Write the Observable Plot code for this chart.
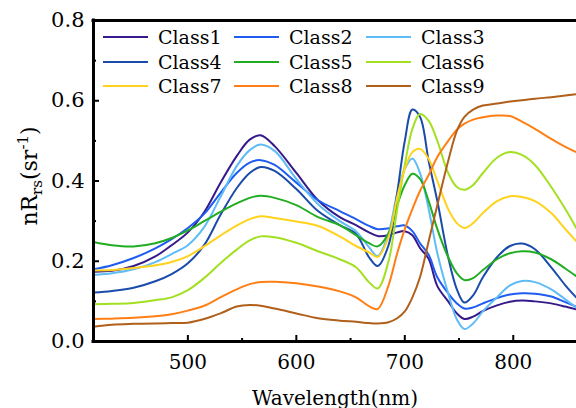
<!DOCTYPE html>
<html><head><meta charset="utf-8">
<script src="https://cdn.jsdelivr.net/npm/d3@7"></script>
<script src="https://cdn.jsdelivr.net/npm/@observablehq/plot@0.6"></script>
<style>
body{margin:0;background:#fff;}
#wrap{position:relative;width:576px;height:408px;overflow:hidden;font-family:"DejaVu Serif",serif;background:#fff;}
#wrap > svg{position:absolute;left:0;top:0;}
#legend{position:absolute;left:103px;top:25px;display:grid;grid-template-columns:131px 132px 130px;}
#legend .item{display:flex;align-items:center;height:24.5px;font-size:19px;color:#000;white-space:nowrap;}
#legend .item svg{position:static;margin-right:10px;flex:none;}
</style></head><body><div id="wrap"></div>
<script>
const wavelength = [413,430,450,470,485,500,515,530,545,557,567,580,600,620,640,655,667,675,685,693,700,707,714,722,730,740,748,755,763,772,785,797,808,820,835,848,858];
const class1 = [0.174,0.176,0.188,0.212,0.240,0.272,0.322,0.395,0.462,0.503,0.514,0.487,0.420,0.352,0.310,0.290,0.272,0.263,0.265,0.272,0.275,0.265,0.233,0.206,0.138,0.100,0.070,0.056,0.062,0.076,0.090,0.099,0.102,0.100,0.095,0.087,0.080];
const class2 = [0.180,0.190,0.208,0.232,0.255,0.283,0.318,0.370,0.420,0.446,0.452,0.440,0.396,0.352,0.325,0.305,0.288,0.280,0.282,0.287,0.289,0.275,0.245,0.216,0.160,0.120,0.095,0.082,0.085,0.095,0.108,0.117,0.120,0.119,0.112,0.098,0.087];
const class3 = [0.166,0.170,0.180,0.198,0.218,0.240,0.285,0.360,0.437,0.477,0.491,0.475,0.405,0.342,0.300,0.275,0.235,0.213,0.270,0.370,0.430,0.456,0.420,0.330,0.220,0.120,0.055,0.031,0.045,0.075,0.110,0.140,0.151,0.148,0.130,0.105,0.085];
const class4 = [0.122,0.126,0.134,0.150,0.168,0.195,0.240,0.315,0.382,0.420,0.435,0.425,0.380,0.325,0.290,0.268,0.210,0.188,0.240,0.370,0.500,0.578,0.560,0.450,0.350,0.210,0.130,0.097,0.115,0.160,0.210,0.238,0.244,0.230,0.185,0.140,0.110];
const class5 = [0.248,0.240,0.237,0.245,0.258,0.277,0.300,0.323,0.344,0.358,0.363,0.358,0.340,0.310,0.290,0.265,0.245,0.237,0.270,0.340,0.390,0.418,0.405,0.350,0.280,0.210,0.170,0.153,0.158,0.178,0.205,0.220,0.225,0.222,0.205,0.182,0.163];
const class6 = [0.093,0.094,0.096,0.103,0.110,0.128,0.158,0.195,0.229,0.252,0.262,0.260,0.246,0.225,0.205,0.185,0.148,0.132,0.200,0.330,0.440,0.530,0.567,0.550,0.500,0.420,0.385,0.378,0.390,0.420,0.458,0.472,0.465,0.440,0.385,0.330,0.283];
const class7 = [0.177,0.178,0.183,0.190,0.198,0.213,0.237,0.264,0.289,0.305,0.312,0.308,0.299,0.288,0.262,0.238,0.222,0.211,0.260,0.360,0.430,0.472,0.480,0.455,0.400,0.330,0.295,0.283,0.295,0.320,0.350,0.362,0.360,0.350,0.320,0.280,0.250];
const class8 = [0.056,0.057,0.059,0.063,0.068,0.077,0.089,0.110,0.130,0.143,0.148,0.149,0.145,0.137,0.125,0.110,0.088,0.081,0.140,0.220,0.280,0.330,0.375,0.415,0.460,0.500,0.528,0.543,0.553,0.559,0.563,0.562,0.548,0.530,0.505,0.485,0.472];
const class9 = [0.037,0.042,0.044,0.045,0.046,0.047,0.056,0.070,0.087,0.091,0.089,0.082,0.070,0.058,0.052,0.049,0.046,0.045,0.048,0.058,0.075,0.110,0.160,0.250,0.340,0.450,0.525,0.560,0.578,0.588,0.593,0.598,0.601,0.605,0.609,0.613,0.616];

const classNames = ["Class1","Class2","Class3","Class4","Class5","Class6","Class7","Class8","Class9"];
const colors = ["#36198a","#1f5cf2","#5fbcf7","#1a4bab","#21ad21","#a2e021","#ffd21c","#ff7f15","#b0601a"];
const xTicks = [500,600,700,800];
const xMinor = [550,650,750];
const yTicks = [0,0.2,0.4,0.6,0.8];
const yMinor = [0.1,0.3,0.5,0.7];

const series = [class1,class2,class3,class4,class5,class6,class7,class8,class9];
const rows = series.flatMap((vals,i)=>vals.map((v,j)=>({wl:wavelength[j], v, cls:classNames[i]})));

const chart = Plot.plot({
  width:576, height:408,
  marginLeft:93, marginRight:0, marginTop:20, marginBottom:67,
  style:{fontFamily:'"DejaVu Serif", serif', background:"#fff", color:"#000", overflow:"visible"},
  x:{domain:[413,858.3]},
  y:{domain:[0,0.8]},
  color:{domain:classNames, range:colors},
  marks:[
    Plot.line(rows,{x:"wl", y:"v", stroke:"cls", strokeWidth:2, curve:"catmull-rom", clip:true}),
    Plot.axisX(xTicks,{tickSize:0, tickPadding:13, fontSize:20, label:"Wavelength(nm)", labelAnchor:"center", labelOffset:63, labelArrow:"none"}),
    Plot.axisX(xTicks,{tickSize:-6, strokeWidth:2, fill:"none", label:null}),
    Plot.axisX(xMinor,{tickSize:-3, strokeWidth:2, fill:"none", label:null}),
    Plot.axisY(yTicks,{tickSize:0, tickPadding:9, fontSize:21, tickFormat:d=>d.toFixed(1), label:null}),
    Plot.axisY(yTicks,{tickSize:-6, strokeWidth:2, fill:"none", label:null}),
    Plot.axisY(yMinor,{tickSize:-3, strokeWidth:2, fill:"none", label:null}),
    Plot.ruleX([413],{strokeWidth:3, strokeLinecap:"square"}),
    Plot.ruleY([0,0.8],{strokeWidth:3, strokeLinecap:"square"})
  ]
});

const wrap = document.getElementById("wrap");
wrap.appendChild(chart);

const svg = d3.select(chart);
const t = svg.append("text")
  .attr("transform","translate(37,176) rotate(-90)")
  .attr("text-anchor","start")
  .attr("font-size",22)
  .attr("font-family",'"DejaVu Serif", serif')
  .attr("fill","#000");
t.append("tspan").text("nR");
t.append("tspan").attr("font-size",15).attr("dy",5).text("rs");
t.append("tspan").attr("dy",-5).text("(sr");
t.append("tspan").attr("font-size",15).attr("dy",-9).text("-1");
t.append("tspan").attr("dy",9).text(")");
const len = t.node().getComputedTextLength();
t.attr("x", -len/2);

const legend = document.createElement("div");
legend.id = "legend";
classNames.forEach((name,i)=>{
  const item = document.createElement("div");
  item.className = "item";
  item.innerHTML = `<svg width="45" height="6"><line x1="0" x2="45" y1="3" y2="3" stroke="${colors[i]}" stroke-width="2"/></svg><span>${name}</span>`;
  legend.appendChild(item);
});
wrap.appendChild(legend);
</script></body></html>
